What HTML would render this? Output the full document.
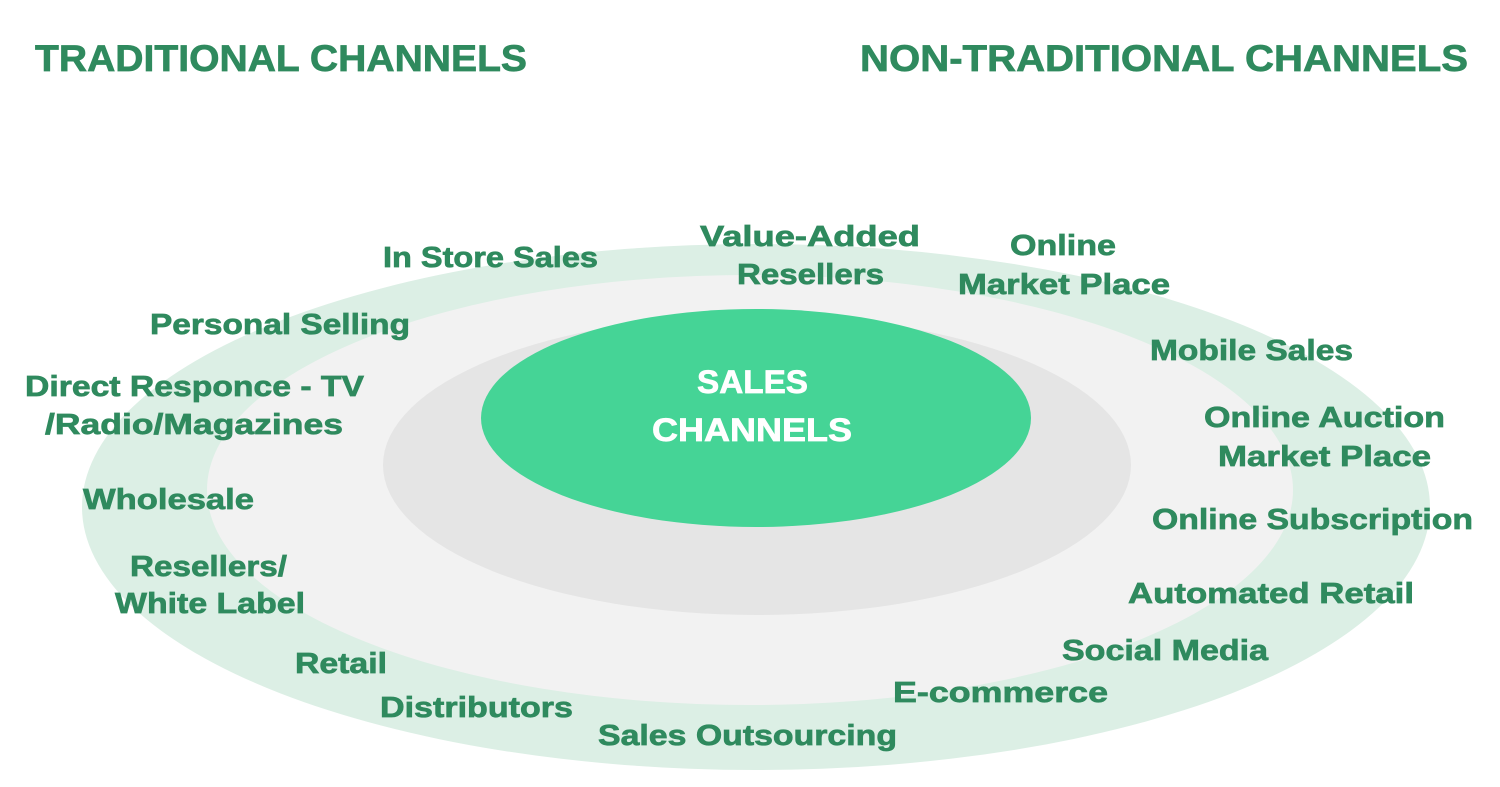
<!DOCTYPE html>
<html><head><meta charset="utf-8"><style>
html,body{margin:0;padding:0;background:#fff;}
svg{display:block;}
text{font-family:"Liberation Sans",sans-serif;font-weight:bold;fill:#2f8a5e;stroke:#2f8a5e;stroke-width:0.7;}
</style></head><body>
<svg width="1500" height="787" viewBox="0 0 1500 787" xmlns="http://www.w3.org/2000/svg">
<rect width="1500" height="787" fill="#fff"/>
<ellipse cx="756" cy="507" rx="674" ry="263" fill="#dcefe5"/>
<ellipse cx="750" cy="490" rx="543" ry="215" fill="#f2f2f2"/>
<ellipse cx="757" cy="465" rx="374" ry="150" fill="#e5e5e5"/>
<ellipse cx="756" cy="418" rx="275" ry="109" fill="#45d496"/>

<text x="35" y="71" font-size="37" textLength="492" lengthAdjust="spacingAndGlyphs">TRADITIONAL CHANNELS</text>
<text x="860" y="71" font-size="37" textLength="608" lengthAdjust="spacingAndGlyphs">NON-TRADITIONAL CHANNELS</text>

<g font-size="29">
<text x="383" y="267" textLength="215" lengthAdjust="spacingAndGlyphs">In Store Sales</text>
<text x="700" y="246" textLength="220" lengthAdjust="spacingAndGlyphs">Value-Added</text>
<text x="737" y="284" textLength="147" lengthAdjust="spacingAndGlyphs">Resellers</text>
<text x="1010" y="255" textLength="106" lengthAdjust="spacingAndGlyphs">Online</text>
<text x="958" y="294" textLength="212" lengthAdjust="spacingAndGlyphs">Market Place</text>
<text x="150" y="334" textLength="260" lengthAdjust="spacingAndGlyphs">Personal Selling</text>
<text x="1150" y="360" textLength="203" lengthAdjust="spacingAndGlyphs">Mobile Sales</text>
<text x="25" y="396" textLength="339" lengthAdjust="spacingAndGlyphs">Direct Responce - TV</text>
<text x="45" y="434" textLength="298" lengthAdjust="spacingAndGlyphs">/Radio/Magazines</text>
<text x="1204" y="427" textLength="241" lengthAdjust="spacingAndGlyphs">Online Auction</text>
<text x="1218" y="466" textLength="213" lengthAdjust="spacingAndGlyphs">Market Place</text>
<text x="83" y="509" textLength="171" lengthAdjust="spacingAndGlyphs">Wholesale</text>
<text x="1152" y="529" textLength="321" lengthAdjust="spacingAndGlyphs">Online Subscription</text>
<text x="130" y="576" textLength="157" lengthAdjust="spacingAndGlyphs">Resellers/</text>
<text x="115" y="613" textLength="190" lengthAdjust="spacingAndGlyphs">White Label</text>
<text x="1128" y="603" textLength="286" lengthAdjust="spacingAndGlyphs">Automated Retail</text>
<text x="295" y="673" textLength="92" lengthAdjust="spacingAndGlyphs">Retail</text>
<text x="1062" y="660" textLength="206" lengthAdjust="spacingAndGlyphs">Social Media</text>
<text x="893" y="702" textLength="215" lengthAdjust="spacingAndGlyphs">E-commerce</text>
<text x="380" y="717" textLength="193" lengthAdjust="spacingAndGlyphs">Distributors</text>
<text x="598" y="745" textLength="299" lengthAdjust="spacingAndGlyphs">Sales Outsourcing</text>
</g>
<text x="697" y="393" font-size="32" style="fill:#fff;stroke:#fff" textLength="111" lengthAdjust="spacingAndGlyphs">SALES</text>
<text x="652" y="441" font-size="32" style="fill:#fff;stroke:#fff" textLength="200" lengthAdjust="spacingAndGlyphs">CHANNELS</text>
</svg>
</body></html>
